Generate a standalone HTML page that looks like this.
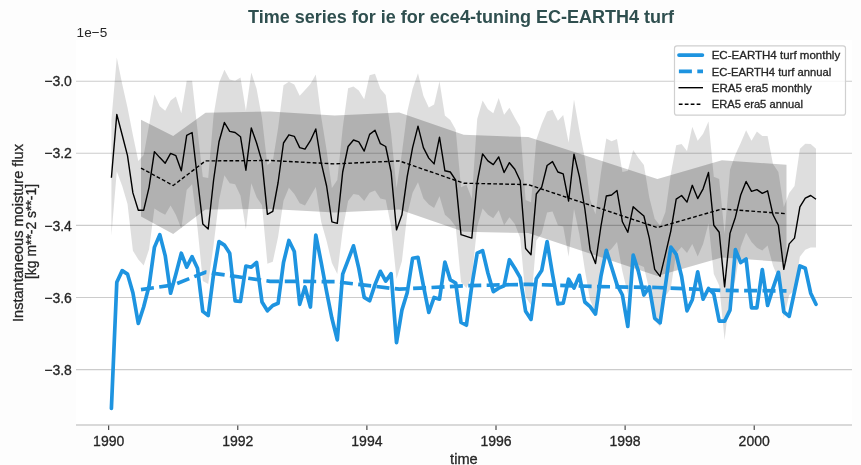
<!DOCTYPE html>
<html><head><meta charset="utf-8"><title>Time series</title>
<style>
html,body{margin:0;padding:0;background:#fdfdfd;}
body{width:861px;height:465px;overflow:hidden;}
svg{display:block;font-family:"Liberation Sans", sans-serif;will-change:transform;}
.r{stroke:#262626;stroke-width:0.3px;}
</style></head>
<body><svg width="861" height="465" viewBox="0 0 861 465">
<rect x="76" y="40" width="776" height="385" fill="#ffffff"/>
<line x1="76" y1="81.3" x2="852" y2="81.3" stroke="#cccccc" stroke-width="1.1"/>
<line x1="76" y1="153.3" x2="852" y2="153.3" stroke="#cccccc" stroke-width="1.1"/>
<line x1="76" y1="225.4" x2="852" y2="225.4" stroke="#cccccc" stroke-width="1.1"/>
<line x1="76" y1="297.5" x2="852" y2="297.5" stroke="#cccccc" stroke-width="1.1"/>
<line x1="76" y1="369.6" x2="852" y2="369.6" stroke="#cccccc" stroke-width="1.1"/>
<polygon points="111.4,120.0 116.8,57.4 122.2,84.1 127.5,107.4 132.9,135.0 138.3,161.0 143.7,155.0 149.1,125.0 154.4,94.6 159.8,106.2 165.2,110.8 170.6,100.4 175.9,96.4 181.3,113.2 186.7,80.7 192.1,80.7 197.5,130.0 202.8,177.0 208.2,178.0 213.6,115.0 219.0,83.0 224.4,69.7 229.7,79.5 235.1,80.7 240.5,77.6 245.9,110.8 251.3,72.5 256.6,88.8 262.0,118.0 267.4,165.0 272.8,161.0 278.1,128.0 283.5,85.3 288.9,81.8 294.3,84.6 299.7,95.7 305.0,89.9 310.4,84.1 315.8,74.4 321.2,116.7 326.6,150.0 331.9,188.0 337.3,180.0 342.7,128.0 348.1,88.3 353.5,86.5 358.8,90.6 364.2,99.2 369.6,75.3 375.0,73.7 380.4,88.8 385.7,95.0 391.1,132.9 396.5,188.0 401.9,153.0 407.2,112.0 412.6,88.8 418.0,73.2 423.4,95.7 428.8,107.4 434.1,104.6 439.5,81.3 444.9,115.5 450.3,120.1 455.7,129.4 461.0,187.2 466.4,184.8 471.8,198.6 477.2,119.0 482.6,100.4 487.9,109.2 493.3,113.2 498.7,98.1 504.1,114.8 509.4,107.8 514.8,117.8 520.2,127.1 525.6,199.9 531.0,202.2 536.3,139.7 541.7,124.0 547.1,111.5 552.5,109.7 557.9,120.8 563.2,114.9 568.6,142.6 574.0,99.5 579.4,130.4 584.8,158.0 590.1,199.4 595.5,214.2 600.9,173.1 606.3,138.5 611.6,141.2 617.0,139.1 622.4,172.0 627.8,170.8 633.2,150.0 638.5,158.1 643.9,165.0 649.3,197.6 654.7,218.8 660.1,225.8 665.4,212.0 670.8,174.0 676.2,145.3 681.6,144.1 687.0,151.1 692.3,126.7 697.7,140.7 703.1,133.7 708.5,121.4 713.8,176.7 719.2,179.0 724.6,233.8 730.0,169.7 735.4,154.6 740.7,143.0 746.1,130.2 751.5,140.7 756.9,131.4 762.3,136.0 767.6,136.0 773.0,163.9 778.4,172.0 783.8,206.9 789.2,192.9 794.5,186.0 799.9,148.8 805.3,143.7 810.7,144.1 816.0,148.8 816.0,247.4 810.7,247.4 805.3,249.7 799.9,256.7 794.5,290.2 789.2,294.9 783.8,318.0 778.4,278.6 773.0,265.7 767.6,245.6 762.3,250.6 756.9,247.8 751.5,242.1 746.1,232.8 740.7,247.0 735.4,279.8 730.0,294.8 724.6,340.0 719.2,285.6 713.8,273.9 708.5,223.6 703.1,243.9 697.7,256.5 692.3,243.9 687.0,253.1 681.6,246.9 676.2,253.1 670.8,288.2 665.4,296.6 660.1,327.0 654.7,320.0 649.3,290.0 643.9,267.0 638.5,264.7 633.2,263.4 627.8,293.8 622.4,271.6 617.0,241.9 611.6,248.8 606.3,253.5 600.9,279.9 595.5,313.0 590.1,300.0 584.8,269.4 579.4,234.6 574.0,209.0 568.6,256.7 563.2,226.5 557.9,225.3 552.5,211.4 547.1,212.5 541.7,233.4 536.3,240.4 531.0,305.0 525.6,297.0 520.2,238.1 514.8,224.1 509.4,217.2 504.1,225.3 498.7,210.2 493.3,218.3 487.9,214.8 482.6,208.5 477.2,226.5 471.8,277.6 466.4,288.0 461.0,282.0 455.7,226.5 450.3,219.5 444.9,214.8 439.5,196.3 434.1,207.9 428.8,204.4 423.4,198.6 418.0,182.3 412.6,192.8 407.2,214.8 401.9,261.3 396.5,279.0 391.1,226.5 385.7,199.7 380.4,198.6 375.0,190.5 369.6,192.8 364.2,200.9 358.8,195.1 353.5,194.0 348.1,200.9 342.7,230.0 337.3,274.0 331.9,263.0 326.6,241.0 321.2,222.0 315.8,187.0 310.4,196.3 305.0,205.6 299.7,203.2 294.3,194.0 288.9,187.8 283.5,200.7 278.1,237.0 272.8,261.8 267.4,263.8 262.0,205.2 256.6,197.2 251.3,183.3 245.9,229.6 240.5,195.8 235.1,184.3 229.7,183.3 224.4,175.3 219.0,200.6 213.6,245.0 208.2,284.0 202.8,281.0 197.5,228.0 192.1,184.3 186.7,189.9 181.3,228.4 175.9,215.0 170.6,205.4 165.2,214.8 159.8,212.0 154.4,208.6 149.1,249.2 143.7,265.4 138.3,259.4 132.9,250.8 127.5,204.0 122.2,185.9 116.8,171.4 111.4,235.7" fill="#000" fill-opacity="0.13"/>
<polygon points="141.0,119.7 173.2,135.9 205.5,112.7 270.1,111.5 334.6,115.5 399.2,112.5 463.7,134.8 528.3,137.1 592.8,158.0 657.4,179.0 721.9,160.2 786.5,164.8 786.5,262.2 721.9,257.5 657.4,276.1 592.8,254.5 528.3,233.1 463.7,231.7 399.2,209.4 334.6,212.4 270.1,209.0 205.5,209.4 173.2,234.0 141.0,216.6" fill="#000" fill-opacity="0.2"/>
<polyline points="111.4,408.5 116.8,282.3 122.2,270.6 127.5,274.1 132.9,292.7 138.3,323.5 143.7,306.7 149.1,285.7 154.4,247.4 159.8,234.6 165.2,255.6 170.6,293.2 175.9,274.1 181.3,253.2 186.7,267.2 192.1,256.7 197.5,268.3 202.8,311.4 208.2,315.6 213.6,274.1 219.0,241.6 224.4,245.1 229.7,253.2 235.1,300.8 240.5,301.5 245.9,266.0 251.3,267.2 256.6,262.5 262.0,302.0 267.4,310.8 272.8,305.5 278.1,303.2 283.5,262.5 288.9,240.5 294.3,251.5 299.7,304.3 305.0,286.9 310.4,307.0 315.8,235.1 321.2,262.5 326.6,291.6 331.9,318.3 337.3,339.9 342.7,274.1 348.1,260.2 353.5,245.8 358.8,268.3 364.2,297.4 369.6,300.8 375.0,284.6 380.4,271.3 385.7,281.1 391.1,273.7 396.5,342.7 401.9,310.1 407.2,292.7 412.6,258.3 418.0,257.4 423.4,285.7 428.8,312.5 434.1,297.4 439.5,299.2 444.9,262.1 450.3,279.9 455.7,283.0 461.0,322.4 466.4,325.2 471.8,285.7 477.2,253.2 482.6,250.6 487.9,273.0 493.3,291.6 498.7,288.1 504.1,285.7 509.4,259.7 514.8,268.3 520.2,277.6 525.6,311.3 531.0,319.4 536.3,278.8 541.7,270.6 547.1,241.6 552.5,274.1 557.9,303.9 563.2,303.2 568.6,279.2 574.0,288.1 579.4,275.3 584.8,302.0 590.1,306.7 595.5,314.1 600.9,276.5 606.3,250.4 611.6,267.2 617.0,284.6 622.4,295.0 627.8,326.4 633.2,255.1 638.5,271.8 643.9,295.0 649.3,286.9 654.7,318.3 660.1,322.9 665.4,285.7 670.8,247.0 676.2,254.4 681.6,276.5 687.0,310.8 692.3,299.7 697.7,271.8 703.1,299.2 708.5,288.5 713.8,293.9 719.2,321.1 724.6,321.1 730.0,310.1 735.4,249.7 740.7,262.5 746.1,259.0 751.5,307.8 756.9,307.8 762.3,269.5 767.6,305.5 773.0,288.1 778.4,272.3 783.8,311.8 789.2,316.4 794.5,291.6 799.9,266.0 805.3,268.3 810.7,293.2 816.0,304.3" fill="none" stroke="#1e94e0" stroke-width="3.7" stroke-linejoin="round" stroke-linecap="round"/>
<polyline points="141.0,289.6 173.2,285.0 205.5,272.2 270.1,281.3 334.6,281.6 399.2,289.2 463.7,285.8 528.3,284.3 592.8,286.5 657.4,287.5 721.9,290.4 786.5,290.9" fill="none" stroke="#1e94e0" stroke-width="3.7" stroke-dasharray="13 5.4" stroke-linejoin="round"/>
<polyline points="111.4,177.8 116.8,114.4 122.2,135.0 127.5,155.7 132.9,192.9 138.3,210.2 143.7,210.2 149.1,187.1 154.4,151.6 159.8,157.6 165.2,163.2 170.6,153.4 175.9,155.7 181.3,170.8 186.7,135.3 192.1,132.5 197.5,179.0 202.8,224.0 208.2,229.0 213.6,180.0 219.0,141.8 224.4,122.5 229.7,131.4 235.1,132.5 240.5,136.7 245.9,170.2 251.3,127.9 256.6,143.0 262.0,161.6 267.4,214.4 272.8,211.4 278.1,182.5 283.5,143.0 288.9,134.8 294.3,136.3 299.7,147.6 305.0,149.2 310.4,140.7 315.8,129.0 321.2,162.7 326.6,186.0 331.9,221.8 337.3,223.4 342.7,172.0 348.1,146.5 353.5,140.0 358.8,141.8 364.2,151.1 369.6,134.4 375.0,130.2 380.4,143.7 385.7,146.5 391.1,172.0 396.5,229.9 401.9,214.8 407.2,176.7 412.6,147.6 418.0,126.2 423.4,147.6 428.8,158.1 434.1,163.9 439.5,137.2 444.9,170.8 450.3,172.0 455.7,180.1 461.0,234.6 466.4,236.4 471.8,238.1 477.2,182.0 482.6,153.9 487.9,160.9 493.3,164.6 498.7,156.9 504.1,172.5 509.4,162.7 514.8,169.2 520.2,180.8 525.6,248.5 531.0,254.8 536.3,194.0 541.7,187.1 547.1,165.5 552.5,161.6 557.9,172.0 563.2,173.9 568.6,201.0 574.0,154.1 579.4,176.7 584.8,208.5 590.1,249.7 595.5,263.6 600.9,226.5 606.3,196.0 611.6,195.0 617.0,190.5 622.4,221.8 627.8,232.3 633.2,206.7 638.5,211.4 643.9,216.0 649.3,238.1 654.7,269.4 660.1,276.4 665.4,254.3 670.8,231.1 676.2,199.2 681.6,195.5 687.0,202.1 692.3,185.3 697.7,198.6 703.1,188.8 708.5,172.5 713.8,225.3 719.2,232.3 724.6,286.9 730.0,233.4 735.4,217.2 740.7,195.0 746.1,181.5 751.5,191.4 756.9,189.6 762.3,193.3 767.6,190.8 773.0,214.8 778.4,225.3 783.8,269.4 789.2,243.9 794.5,238.1 799.9,206.8 805.3,198.1 810.7,195.5 816.0,199.2" fill="none" stroke="#000" stroke-width="1.4" stroke-linejoin="round"/>
<polyline points="141.0,168.1 173.2,185.5 205.5,160.9 270.1,160.5 334.6,163.9 399.2,160.9 463.7,183.2 528.3,184.6 592.8,206.0 657.4,227.6 721.9,209.0 786.5,213.7" fill="none" stroke="#000" stroke-width="1.4" stroke-dasharray="3.75 2.2" stroke-linejoin="round"/>
<line x1="76" y1="425" x2="852" y2="425" stroke="#cccccc" stroke-width="1.3"/>
<line x1="108.7" y1="425.5" x2="108.7" y2="430" stroke="#262626" stroke-width="1"/>
<text x="108.7" y="446" text-anchor="middle" font-size="14" fill="#262626" class="r">1990</text>
<line x1="237.8" y1="425.5" x2="237.8" y2="430" stroke="#262626" stroke-width="1"/>
<text x="237.8" y="446" text-anchor="middle" font-size="14" fill="#262626" class="r">1992</text>
<line x1="366.9" y1="425.5" x2="366.9" y2="430" stroke="#262626" stroke-width="1"/>
<text x="366.9" y="446" text-anchor="middle" font-size="14" fill="#262626" class="r">1994</text>
<line x1="496.0" y1="425.5" x2="496.0" y2="430" stroke="#262626" stroke-width="1"/>
<text x="496.0" y="446" text-anchor="middle" font-size="14" fill="#262626" class="r">1996</text>
<line x1="625.1" y1="425.5" x2="625.1" y2="430" stroke="#262626" stroke-width="1"/>
<text x="625.1" y="446" text-anchor="middle" font-size="14" fill="#262626" class="r">1998</text>
<line x1="754.2" y1="425.5" x2="754.2" y2="430" stroke="#262626" stroke-width="1"/>
<text x="754.2" y="446" text-anchor="middle" font-size="14" fill="#262626" class="r">2000</text>
<text x="71.9" y="86.4" text-anchor="end" font-size="14" fill="#262626" class="r" textLength="27.7" lengthAdjust="spacingAndGlyphs">−3.0</text>
<text x="71.9" y="158.4" text-anchor="end" font-size="14" fill="#262626" class="r" textLength="27.7" lengthAdjust="spacingAndGlyphs">−3.2</text>
<text x="71.9" y="230.5" text-anchor="end" font-size="14" fill="#262626" class="r" textLength="27.7" lengthAdjust="spacingAndGlyphs">−3.4</text>
<text x="71.9" y="302.6" text-anchor="end" font-size="14" fill="#262626" class="r" textLength="27.7" lengthAdjust="spacingAndGlyphs">−3.6</text>
<text x="71.9" y="374.7" text-anchor="end" font-size="14" fill="#262626" class="r" textLength="27.7" lengthAdjust="spacingAndGlyphs">−3.8</text>
<text x="76.6" y="36.8" font-size="13.6" fill="#262626" textLength="30.6" lengthAdjust="spacingAndGlyphs">1e−5</text>
<text x="463.9" y="463.6" text-anchor="middle" font-size="14" fill="#262626" class="r" textLength="27.6" lengthAdjust="spacingAndGlyphs">time</text>
<text transform="translate(22.8,233) rotate(-90)" text-anchor="middle" font-size="14" fill="#262626" class="r" textLength="178" lengthAdjust="spacingAndGlyphs">Instantaneous moisture flux</text>
<text transform="translate(35.5,231.5) rotate(-90)" text-anchor="middle" font-size="14" fill="#262626" class="r" textLength="95" lengthAdjust="spacingAndGlyphs">[kg m**-2 s**-1]</text>
<text x="248" y="23" font-size="18" font-weight="bold" fill="#2f4f4f" textLength="426" lengthAdjust="spacingAndGlyphs">Time series for ie for ece4-tuning EC-EARTH4 turf</text>
<rect x="674.5" y="45.8" width="171" height="69.4" rx="2.5" ry="2.5" fill="#ffffff" fill-opacity="0.8" stroke="#d0d0d0" stroke-width="1.2"/>
<line x1="679" y1="55.1" x2="702.4" y2="55.1" stroke="#1e94e0" stroke-width="3.7" stroke-linecap="round"/>
<line x1="678.9" y1="71.4" x2="703" y2="71.4" stroke="#1e94e0" stroke-width="3.7" stroke-dasharray="13 5.4"/>
<line x1="678.5" y1="87.7" x2="703" y2="87.7" stroke="#000" stroke-width="1.4"/>
<line x1="678.8" y1="104.3" x2="701.6" y2="104.3" stroke="#000" stroke-width="1.4" stroke-dasharray="3.75 2.2"/>
<text x="711.7" y="58.8" font-size="10.8" fill="#262626" class="r" textLength="128.5" lengthAdjust="spacingAndGlyphs">EC-EARTH4 turf monthly</text>
<text x="711.7" y="75.7" font-size="10.8" fill="#262626" class="r" textLength="119.6" lengthAdjust="spacingAndGlyphs">EC-EARTH4 turf annual</text>
<text x="711.7" y="91.5" font-size="10.8" fill="#262626" class="r" textLength="100.2" lengthAdjust="spacingAndGlyphs">ERA5 era5 monthly</text>
<text x="711.7" y="107.7" font-size="10.8" fill="#262626" class="r" textLength="91.3" lengthAdjust="spacingAndGlyphs">ERA5 era5 annual</text>
</svg></body></html>
